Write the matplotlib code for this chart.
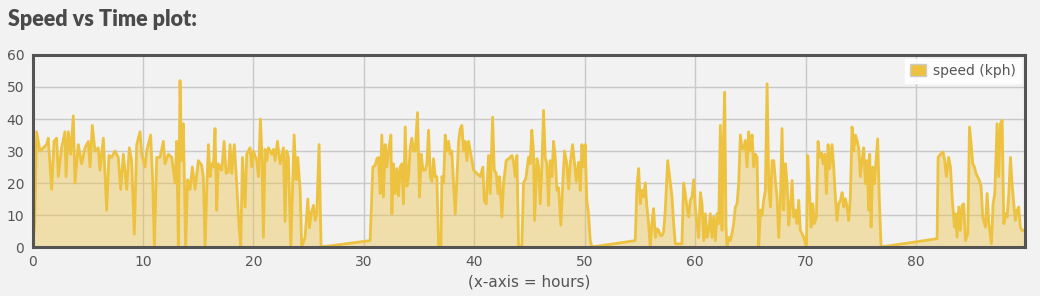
import matplotlib

matplotlib.use("Agg")
import matplotlib.pyplot as plt
from matplotlib.patches import Patch

# hours since start, speed in kph
hours = [
    0, 0.1, 0.2, 0.37, 0.67, 0.97, 1.27, 1.42, 1.73, 1.94, 2.18, 2.33, 2.63, 2.93, 3.03, 3.24,
    3.45, 3.69, 3.84, 4.14, 4.44, 4.75, 5.05, 5.2, 5.41, 5.65, 5.95, 6.1, 6.41, 6.71, 6.92, 7.16,
    7.46, 7.76, 7.98, 8.22, 8.52, 8.76, 8.97, 9.21, 9.43, 9.73, 9.88, 10.18, 10.33, 10.69, 10.87,
    11.03, 11.24, 11.54, 11.84, 11.99, 12.29, 12.6, 12.9, 13.05, 13.2, 13.35, 13.5, 13.65, 13.86,
    14.04, 14.26, 14.47, 14.71, 15.01, 15.31, 15.46, 15.62, 15.77, 15.92, 16.07, 16.22, 16.37,
    16.52, 16.67, 16.82, 17.13, 17.34, 17.52, 17.73, 17.88, 18.03, 18.27, 18.48, 18.7, 18.85,
    19.0, 19.24, 19.39, 19.69, 19.84, 19.99, 20.3, 20.45, 20.63, 20.75, 20.9, 21.05, 21.2, 21.35,
    21.65, 21.81, 21.96, 22.17, 22.41, 22.71, 22.86, 23.01, 23.16, 23.38, 23.53, 23.68, 23.86,
    24.01, 24.22, 24.37, 24.67, 24.92, 25.07, 25.22, 25.43, 25.58, 25.73, 25.94, 26.12,
    30.56, 30.81, 31.02, 31.17, 31.32, 31.47, 31.62, 31.77, 31.92, 32.08, 32.23, 32.44, 32.53,
    32.68, 32.83, 32.98, 33.13, 33.28, 33.43, 33.58, 33.74, 33.89, 34.04, 34.19, 34.34, 34.49,
    34.64, 34.85, 35.03, 35.19, 35.34, 35.55, 35.7, 35.85, 36.0, 36.15, 36.3, 36.45, 36.6, 36.76,
    36.97, 37.06, 37.21, 37.36, 37.51, 37.66, 37.81, 37.96, 38.11, 38.27, 38.42, 38.57, 38.72,
    38.87, 39.02, 39.17, 39.32, 39.47, 39.62, 39.78, 39.93, 40.23, 40.53, 40.77, 40.89, 41.07,
    41.28, 41.43, 41.65, 41.8, 41.98, 42.13, 42.28, 42.49, 42.64, 42.88, 43.1, 43.4, 43.55, 43.7,
    43.85, 44.0, 44.3, 44.45, 44.66, 44.9, 45.05, 45.2, 45.35, 45.45, 45.66, 45.81, 45.96, 46.11,
    46.26, 46.41, 46.56, 46.71, 46.86, 47.02, 47.17, 47.32, 47.47, 47.62, 47.83, 48.01, 48.16,
    48.37, 48.53, 48.68, 48.89, 49.07, 49.22, 49.43, 49.58, 49.73, 49.88, 50.03, 50.18, 50.33,
    50.49, 50.64,
    54.56, 54.72, 54.87, 55.02, 55.17, 55.32, 55.47, 55.62, 55.77, 55.92, 56.07, 56.22, 56.38,
    56.53, 56.68, 56.83, 56.98, 57.13, 57.28, 57.5, 57.67, 57.89, 58.04, 58.19, 58.49, 58.79,
    58.94, 59.09, 59.24, 59.4, 59.55, 59.7, 59.85, 60.0, 60.15, 60.3, 60.46, 60.61, 60.76, 60.91,
    61.06, 61.21, 61.36, 61.51, 61.66, 61.81, 61.97, 62.12, 62.27, 62.42, 62.51, 62.66, 62.78,
    62.87, 63.02, 63.17, 63.32, 63.47, 63.63, 63.78, 63.93, 64.08, 64.23, 64.38, 64.53, 64.68,
    64.83, 64.99, 65.14, 65.29, 65.44, 65.59, 65.74, 65.89, 66.04, 66.19, 66.34, 66.5, 66.65,
    66.8, 66.95, 67.1, 67.25, 67.4, 67.55, 67.7, 67.85, 68.0, 68.16, 68.31, 68.46, 68.61, 68.76,
    68.91, 69.06, 69.21, 69.36, 69.51, 69.82, 70.06, 70.18, 70.36, 70.48, 70.63, 70.78, 70.96,
    71.11, 71.26, 71.42, 71.57, 71.72, 71.87, 72.02, 72.17, 72.38, 72.53, 72.68, 72.83, 72.98,
    73.14, 73.29, 73.44, 73.59, 73.74, 73.89, 74.04, 74.19, 74.34, 74.49, 74.64, 74.79, 74.94,
    75.09, 75.24, 75.4, 75.55, 75.7, 75.79, 75.91, 76.06, 76.21, 76.36, 76.51, 76.66, 76.82,
    81.89, 81.98, 82.19, 82.43, 82.58, 82.73, 82.94, 83.1, 83.25, 83.46, 83.55, 83.7, 83.85,
    84.0, 84.15, 84.3, 84.45, 84.67, 84.82, 84.97, 85.12, 85.27, 85.42, 85.57, 85.72, 85.87,
    86.02, 86.27, 86.42, 86.57, 86.81, 86.96, 87.11, 87.32, 87.47, 87.62, 87.78, 87.93, 88.08,
    88.23, 88.38, 88.53, 88.68, 88.83, 88.98, 89.13, 89.28, 89.43, 89.58, 89.74, 89.85,
]

speed_kph = [
    0, 3.6, 8, 36, 30, 31, 32, 34, 18, 33, 34, 22, 31, 36, 22, 36,
    29, 41, 20, 32, 26, 31, 33, 25, 38, 30, 31, 24, 34, 11.5, 28.6, 28,
    30, 28, 18, 29, 18, 31, 27, 4, 32, 36, 29, 25, 30, 35, 21,
    0, 28, 28, 33, 26, 29, 28, 20, 33, 0, 52, 27, 38.5, 0,
    21, 18, 25, 18, 27, 25.5, 22, 0, 18, 32, 22, 26, 25,
    37, 11.5, 26, 24, 33, 23, 23.5, 32, 23, 32, 20, 6, 0,
    28, 12.5, 29, 31, 25, 30, 27, 22, 40, 30, 3, 30.5, 27, 31,
    29, 30.5, 27, 33, 26, 31, 8, 30, 28, 0, 18, 35, 21,
    28, 18, 0, 3, 15, 6, 10.4, 13, 8.3, 10.4, 32, 0,
    2, 25, 25.5, 27.6, 28, 16.7, 35, 15.6, 32, 25, 30, 35, 10.4,
    26, 16.7, 24.5, 16, 25, 26, 13.5, 37.5, 19, 22, 31, 34, 30,
    30, 42, 15.6, 29, 24, 24, 26, 36.5, 22, 20.5, 27.6, 22, 22, 0,
    0, 22, 20, 35, 30, 33, 29, 30, 20, 10.4, 22, 33, 37,
    38, 30, 33, 27, 33, 30, 27, 24, 23, 22, 25, 14.6, 13.5,
    28.6, 16.7, 40.6, 24, 23, 16.7, 22, 9.4, 20, 27, 27.6, 28.6, 26.5, 22,
    28.6, 0, 0.5, 20, 21.5, 28, 26, 36.5, 30, 8.3, 27.6, 25, 13.5, 25,
    42.7, 28, 26, 13, 27, 22, 33, 28, 17.7, 18.5, 6.8, 20.5, 30,
    26, 18.2, 26, 32, 26, 20.5, 26.5, 17.7, 32, 25, 32, 14.6, 10.4,
    2, 0,
    2, 19, 24.5, 13.5, 17.7, 15.6, 20, 12.5, 7.3, 0, 7.3, 12, 3,
    5.7, 5.2, 3.6, 3.6, 4.7, 11.5, 27, 22, 15.6, 7.3, 1, 1, 1,
    20, 16.7, 12.5, 9.4, 14.6, 15.6, 21, 12.5, 7.3, 3, 17, 13.5, 2, 10.4,
    3, 5.2, 10.4, 3, 9.4, 2, 10.4, 7.3, 38, 5.2, 28, 48.4, 6.2,
    0, 3, 2, 4.2, 7.3, 12.5, 13.5, 20, 35, 30.7, 30.7, 33.3, 25,
    36, 30, 35, 25, 29, 28, 0, 11.5, 9.9, 14.6, 17.7, 51, 18.8,
    12.5, 27, 27, 20.8, 15.6, 3, 14.6, 37, 11.5, 26, 19.8, 6.8, 12.5, 20.8,
    9.4, 11.5, 7.3, 14.6, 5.2, 3, 0, 28.6, 15.6, 6.2, 13.5, 7.3, 9.4,
    33, 28, 29.5, 26, 29, 16.7, 32, 24.5, 32, 25, 15.6, 8.3, 13.5,
    14.6, 17, 12.5, 15.1, 12.5, 8.3, 15.6, 37.5, 30, 35, 33.3, 31, 22,
    27, 31, 19.8, 27, 11.5, 29, 6.2, 25, 19.8, 27, 33.8, 14.6, 0,
    2.6, 28, 29, 29.7, 27, 22, 28, 25, 15.6, 6.2, 10.4, 3.1, 12.5,
    5.2, 13, 13.5, 2, 4.2, 37.5, 32.3, 26, 25, 22.9, 21.9, 20.8, 19,
    9.4, 6.2, 16.7, 7.3, 1, 13.5, 16.7, 38.5, 22, 38.5, 39.6, 7.3, 10.4,
    9.4, 16.7, 28, 19.8, 13.5, 8.3, 11.5, 12.5, 6.2, 5.2, 5.2, 5.2,
]

x_ticks = [0, 10, 20, 30, 40, 50, 60, 70, 80]
y_ticks = [0, 10, 20, 30, 40, 50, 60]

line_color = "#edc240"
bg = "#f2f2f2"
text_color = "#555555"

fig = plt.figure(figsize=(10.4, 2.96), dpi=100, facecolor=bg)
ax = fig.add_axes([0.0313, 0.1655, 0.9543, 0.6487], facecolor=bg)

ax.fill_between(hours, speed_kph, 0, color=line_color, alpha=0.4, linewidth=0)
ax.plot(hours, speed_kph, color=line_color, linewidth=2, solid_joinstyle="round")

ax.set_xlim(0, max(hours))
ax.set_ylim(0, 60)
ax.set_xticks(x_ticks)
ax.set_yticks(y_ticks)
ax.grid(True, color="#c9c9c9", linewidth=1)
ax.set_axisbelow(True)
ax.tick_params(length=0, labelsize=10, colors=text_color, pad=6)
for spine in ax.spines.values():
    spine.set_color("#545454")
    spine.set_linewidth(2.2)

ax.set_xlabel("(x-axis = hours)", fontsize=11, color=text_color, labelpad=4)

handle = Patch(facecolor=line_color, edgecolor="#cccccc", linewidth=1)
leg = ax.legend([handle], ["speed (kph)"], loc="upper right", fontsize=10,
                frameon=True, fancybox=False, borderaxespad=0.3,
                handlelength=1.2, handleheight=1.0, handletextpad=0.5,
                borderpad=0.35, labelcolor=text_color)
leg.get_frame().set_facecolor("white")
leg.get_frame().set_edgecolor("white")
leg.get_frame().set_alpha(0.85)

fig.text(0.008, 0.935, "Speed vs Time plot:", fontsize=15.5, fontweight="heavy",
         family="Lato", color="#4a4a4a", va="center", ha="left")

fig.savefig("out.png", dpi=100, facecolor=bg)
